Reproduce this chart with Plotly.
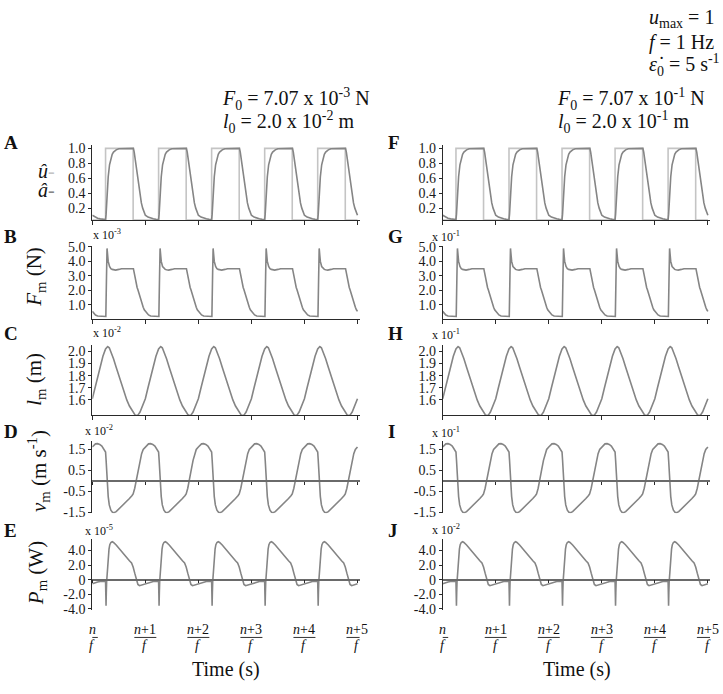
import plotly.graph_objects as go

W, H = 723, 694

# ---------------- data (one steady-state cycle, phase in units of 1/f) ----------------
CYCLE_INDEX = [0, 1, 2, 3, 4]

U_PHASE = [0.0, 0.25, 0.25, 0.77, 0.77, 1.0]
U_HAT = [0.04, 0.04, 1.0, 1.0, 0.04, 0.04]

A_PHASE = [0.0, 0.05, 0.1, 0.15, 0.2, 0.25, 0.26, 0.27, 0.28, 0.3, 0.325, 0.35, 0.375, 0.4,
           0.45, 0.5, 0.6, 0.775, 0.79, 0.81, 0.83, 0.85, 0.875, 0.9, 0.925, 0.95, 0.975, 1.0]
A_HAT = [0.105, 0.08, 0.065, 0.057, 0.05, 0.046, 0.12, 0.28, 0.42, 0.62, 0.78, 0.87, 0.92, 0.95,
         0.98, 0.995, 1.0, 1.0, 0.95, 0.85, 0.74, 0.62, 0.48, 0.36, 0.27, 0.2, 0.145, 0.105]

F_PHASE = [0.0, 0.03, 0.06, 0.1, 0.15, 0.2, 0.255, 0.268, 0.278, 0.29, 0.3, 0.325, 0.35, 0.375,
           0.4, 0.44, 0.5, 0.55, 0.775, 0.79, 0.8, 0.81, 0.83, 0.845, 0.86, 0.875, 0.89, 0.905,
           0.92, 0.94, 0.96, 0.98, 1.0]
F_M = [0.55, 0.4, 0.3, 0.23, 0.21, 0.2, 0.2, 3.0, 4.9, 4.4, 4.0, 3.65, 3.5, 3.45,
       3.42, 3.4, 3.45, 3.5, 3.5, 3.2, 2.95, 2.7, 2.4, 2.2, 2.05, 1.85, 1.6, 1.4,
       1.22, 1.02, 0.83, 0.66, 0.55]

L_PHASE = [0.0, 0.05, 0.1, 0.15, 0.2, 0.25, 0.29, 0.32, 0.35, 0.4, 0.45, 0.5, 0.55, 0.6,
           0.65, 0.7, 0.75, 0.8, 0.83, 0.86, 0.9, 0.95, 1.0]
L_M = [1.61, 1.70, 1.79, 1.88, 1.96, 2.02, 2.04, 2.03, 2.0, 1.94, 1.87, 1.80, 1.73, 1.66,
       1.60, 1.55, 1.51, 1.48, 1.47, 1.475, 1.5, 1.55, 1.61]

V_PHASE = [0.0, 0.03, 0.06, 0.1, 0.14, 0.18, 0.21, 0.24, 0.25, 0.26, 0.27, 0.28, 0.3, 0.32,
           0.35, 0.38, 0.41, 0.45, 0.5, 0.55, 0.6, 0.65, 0.7, 0.75, 0.77, 0.8, 0.83, 0.86,
           0.9, 0.93, 0.96, 1.0]
V_M = [1.62, 1.72, 1.77, 1.78, 1.74, 1.66, 1.55, 1.45, 1.38, 1.0, 0.5, 0.0, -0.75, -1.15,
       -1.4, -1.5, -1.52, -1.47, -1.35, -1.22, -1.09, -0.96, -0.84, -0.7, -0.62, -0.35, 0.0, 0.45,
       0.98, 1.3, 1.5, 1.62]

P_PHASE = [0.0, 0.05, 0.1, 0.15, 0.2, 0.25, 0.255, 0.259, 0.264, 0.27, 0.28, 0.29, 0.3, 0.315,
           0.33, 0.35, 0.375, 0.4, 0.45, 0.5, 0.55, 0.6, 0.65, 0.7, 0.74, 0.77, 0.8, 0.83,
           0.86, 0.89, 0.92, 0.95, 1.0]
P_M = [-0.55, -0.4, -0.3, -0.25, -0.23, -0.22, -2.0, -3.55, -1.8, -0.3, 1.0, 2.3, 3.1, 4.2,
       4.8, 5.1, 5.2, 5.1, 4.75, 4.3, 3.8, 3.35, 2.95, 2.6, 2.3, 1.75, 0.9, 0.0,
       -0.65, -0.82, -0.75, -0.63, -0.55]

X_TICKS = [0, 1, 2, 3, 4, 5]
X_TICK_NUM = ["<i>n</i>", "<i>n</i>+1", "<i>n</i>+2", "<i>n</i>+3", "<i>n</i>+4", "<i>n</i>+5"]

Y_A_TICKS = [0.2, 0.4, 0.6, 0.8, 1.0]
Y_A_TEXT = ["0.2", "0.4", "0.6", "0.8", "1.0"]
Y_B_TICKS = [1.0, 2.0, 3.0, 4.0, 5.0]
Y_B_TEXT = ["1.0", "2.0", "3.0", "4.0", "5.0"]
Y_C_TICKS = [1.6, 1.7, 1.8, 1.9, 2.0]
Y_C_TEXT = ["1.6", "1.7", "1.8", "1.9", "2.0"]
Y_D_TICKS = [-1.5, -0.5, 0.5, 1.5]
Y_D_TEXT = ["-1.5", "-0.5", "0.5", "1.5"]
Y_E_TICKS = [-4.0, -2.0, 0.0, 2.0, 4.0]
Y_E_TEXT = ["-4.0", "-2.0", "0", "2.0", "4.0"]

EXP_LEFT = ["", "x 10<sup>-3</sup>", "x 10<sup>-2</sup>", "x 10<sup>-2</sup>", "x 10<sup>-5</sup>"]
EXP_RIGHT = ["", "x 10<sup>-1</sup>", "x 10<sup>-1</sup>", "x 10<sup>-1</sup>", "x 10<sup>-2</sup>"]
LETTERS_LEFT = ["A", "B", "C", "D", "E"]
LETTERS_RIGHT = ["F", "G", "H", "I", "J"]
Y_TITLES = [None, "<i>F</i><sub>m</sub> (N)", "<i>l</i><sub>m</sub> (m)",
            "<i>v</i><sub>m</sub> (m s<sup>-1</sup>)", "<i>P</i><sub>m</sub> (W)"]


def tile(phase, vals):
    t, y = [], []
    for k in CYCLE_INDEX:
        t += [k + p for p in phase]
        y += list(vals)
    return t, y


def px(x):
    return x / W


def py(y):
    return 1 - y / H


XDOM = [[px(92.3), px(359.6)], [px(442.7), px(710.0)]]
XRANGE = [0, 5.04]
ROWS = [
    dict(top=142.0, bot=218.2, rng=[0.04, 1.04], tv=Y_A_TICKS, tt=Y_A_TEXT, zero=False),
    dict(top=244.1, bot=319.3, rng=[0.0, 5.1], tv=Y_B_TICKS, tt=Y_B_TEXT, zero=False),
    dict(top=345.8, bot=417.3, rng=[1.472, 2.05], tv=Y_C_TICKS, tt=Y_C_TEXT, zero=False),
    dict(top=443.0, bot=517.0, rng=[-1.55, 1.92], tv=Y_D_TICKS, tt=Y_D_TEXT, zero=True),
    dict(top=543.0, bot=615.2, rng=[-4.1, 5.6], tv=Y_E_TICKS, tt=Y_E_TEXT, zero=True),
]

SERIES = [
    [(U_PHASE, U_HAT, "#c4c4c4"), (A_PHASE, A_HAT, "#858585")],
    [(F_PHASE, F_M, "#858585")],
    [(L_PHASE, L_M, "#858585")],
    [(V_PHASE, V_M, "#858585")],
    [(P_PHASE, P_M, "#858585")],
]

FONT = "Liberation Serif"
AXC = "#2a2a2a"

fig = go.Figure()
layout = dict(
    width=W, height=H, margin=dict(l=0, r=0, t=0, b=0), autosize=False,
    paper_bgcolor="white", plot_bgcolor="white", showlegend=False,
    font=dict(family=FONT, size=13, color="#1a1a1a"),
)

for r, row in enumerate(ROWS):
    for c in range(2):
        i = r * 2 + c + 1
        sx = "" if i == 1 else str(i)
        for ph, vals, col in SERIES[r]:
            t, y = tile(ph, vals)
            fig.add_trace(go.Scatter(x=t, y=y, mode="lines", xaxis="x" + sx, yaxis="y" + sx,
                                     line=dict(color=col, width=1.6), hoverinfo="skip"))
        ydom = [py(row["bot"]), py(row["top"])]
        xa = dict(domain=XDOM[c], range=XRANGE, showgrid=False, zeroline=False,
                  showline=True, linewidth=1, linecolor=AXC,
                  tickvals=X_TICKS, ticks="outside", ticklen=4, tickwidth=1, tickcolor=AXC,
                  showticklabels=False, fixedrange=True)
        if row["zero"]:
            frac = (0 - row["rng"][0]) / (row["rng"][1] - row["rng"][0])
            xa.update(anchor="free", position=ydom[0] + frac * (ydom[1] - ydom[0]),
                      linecolor="#6a6a6a", linewidth=1.5, ticklen=3)
        else:
            xa.update(anchor="y" + sx)
        ya = dict(domain=ydom, range=row["rng"], anchor="x" + sx, showgrid=False, zeroline=False,
                  showline=True, linewidth=1, linecolor=AXC,
                  tickvals=row["tv"], ticktext=row["tt"], ticks="outside", ticklen=3,
                  tickwidth=1, tickcolor=AXC, tickfont=dict(family=FONT, size=14, color="#1a1a1a"),
                  fixedrange=True)
        layout["xaxis" + sx] = xa
        layout["yaxis" + sx] = ya

ann = []
shapes = []


def add_text(x, y, text, size, xanchor="left", angle=0, color="#111", bold=False):
    if bold:
        text = "<b>" + text + "</b>"
    ann.append(dict(x=px(x), y=py(y), xref="paper", yref="paper", text=text, showarrow=False,
                    xanchor=xanchor, yanchor="middle", textangle=angle,
                    font=dict(family=FONT, size=size, color=color)))


LETTER_Y = [139, 235, 334, 434, 535]
for r in range(5):
    add_text(2, LETTER_Y[r], LETTERS_LEFT[r], 19, bold=True)
    add_text(386, LETTER_Y[r], LETTERS_RIGHT[r], 19, bold=True)

EXP_Y_L = [0, 233, 333, 433, 535]
EXP_X_L = [0, 91, 91, 83, 83]
EXP_Y_R = [0, 235, 335, 435, 533]
for r in range(1, 5):
    add_text(EXP_X_L[r], EXP_Y_L[r], EXP_LEFT[r], 12)
    add_text(430, EXP_Y_R[r], EXP_RIGHT[r], 12)

TITLE_POS = [None, (35, 276), (35, 381), (38, 474), (37, 578)]
for r in range(1, 5):
    add_text(TITLE_POS[r][0], TITLE_POS[r][1], Y_TITLES[r], 21, xanchor="center", angle=-90)

add_text(36, 168, "<i>û</i><span style='color:#c4c4c4'>-</span>", 20)
add_text(36, 188, "<i>â</i><span style='color:#858585'>-</span>", 20)

add_text(220, 95, "<i>F</i><sub>0</sub> = 7.07 x 10<sup>-3</sup> N", 20)
add_text(221, 118, "<i>l</i><sub>0</sub> = 2.0 x 10<sup>-2</sup> m", 20)
add_text(555, 95, "<i>F</i><sub>0</sub> = 7.07 x 10<sup>-1</sup> N", 20)
add_text(556, 118, "<i>l</i><sub>0</sub> = 2.0 x 10<sup>-1</sup> m", 20)
add_text(647, 13, "<i>u</i><sub>max</sub> = 1", 20)
add_text(647, 37, "<i>f</i> = 1 Hz", 20)
add_text(647, 60, "<i>ε̇</i><sub>0</sub> = 5 s<sup>-1</sup>", 20)

for c, xr in enumerate(["x9", "x10"]):
    for tv, num in zip(X_TICKS, X_TICK_NUM):
        ann.append(dict(x=tv, y=py(635), xref=xr, yref="paper", text=num, showarrow=False,
                        xanchor="center", yanchor="middle", font=dict(family=FONT, size=14, color="#111")))
        ann.append(dict(x=tv, y=py(652), xref=xr, yref="paper", text="<i>f</i>", showarrow=False,
                        xanchor="center", yanchor="middle", font=dict(family=FONT, size=14, color="#111")))
        hw = (5.5 if tv == 0 else 11.0) / 53.04
        shapes.append(dict(type="line", xref=xr, yref="paper", x0=tv - hw, x1=tv + hw,
                           y0=py(643.5), y1=py(643.5), line=dict(color="#333", width=1)))
add_text(226, 676, "Time (s)", 20, xanchor="center")
add_text(577, 676, "Time (s)", 20, xanchor="center")

layout["annotations"] = ann
layout["shapes"] = shapes
fig.update_layout(**layout)
fig.write_html("out.html", config={"displayModeBar": False},
               post_script="document.body.style.margin='0';document.body.style.padding='0';")
